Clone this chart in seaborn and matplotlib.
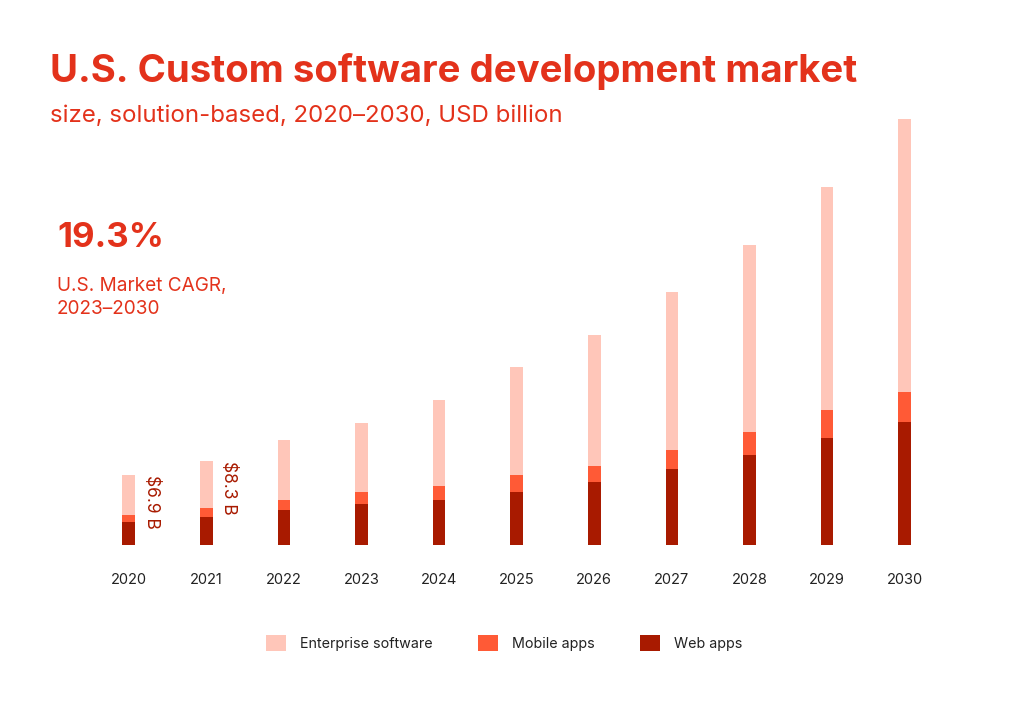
import matplotlib
matplotlib.use("Agg")
import matplotlib.pyplot as plt
from matplotlib.patches import Patch
import seaborn as sns
import pandas as pd
import numpy as np

years = ["2020", "2021", "2022", "2023", "2024", "2025", "2026", "2027", "2028", "2029", "2030"]
web_apps = [2.30, 2.79, 3.48, 4.01, 4.43, 5.19, 6.18, 7.46, 8.87, 10.57, 12.09]
mobile_apps = [0.69, 0.83, 0.95, 1.21, 1.41, 1.70, 1.61, 1.90, 2.27, 2.70, 3.01]
enterprise_software = [3.91, 4.68, 5.91, 6.77, 8.44, 10.64, 12.87, 15.54, 18.45, 21.97, 26.90]
series_names = ["Enterprise software", "Mobile apps", "Web apps"]
label_years = ["2020", "2021"]
label_texts = ["$6.9 B", "$8.3 B"]

C_ENT = "#FFC6B9"
C_MOB = "#FF5A36"
C_WEB = "#A81A00"
C_RED = "#E3321B"
C_DARK = "#222222"

df = pd.DataFrame({"year": years, "web": web_apps, "mobile": mobile_apps,
                   "enterprise": enterprise_software})
df["web_mobile"] = df["web"] + df["mobile"]
df["total"] = df["web_mobile"] + df["enterprise"]

sns.set_theme(style="white")
plt.rcParams["font.family"] = ["Inter", "DejaVu Sans"]

W, H = 1024, 713
fig = plt.figure(figsize=(W / 100, H / 100), dpi=100)
fig.patch.set_facecolor("white")

base_px = 545
px_per_unit = 10.15
ymax = 45
ax_h = ymax * px_per_unit
left_px = 128.7 - 38.8
ax_w = 11 * 77.6
ax = fig.add_axes([left_px / W, (H - base_px) / H, ax_w / W, ax_h / H])

bw = 12.6 / 77.6
sns.barplot(data=df, x="year", y="total", order=years, color=C_ENT, width=bw,
            linewidth=0, saturation=1, ax=ax)
sns.barplot(data=df, x="year", y="web_mobile", order=years, color=C_MOB, width=bw,
            linewidth=0, saturation=1, ax=ax)
sns.barplot(data=df, x="year", y="web", order=years, color=C_WEB, width=bw,
            linewidth=0, saturation=1, ax=ax)

ax.set_xlim(-0.5, len(years) - 0.5)
ax.set_ylim(0, ymax)
ax.set_xlabel("")
ax.set_ylabel("")
ax.set_yticks([])
for s in ax.spines.values():
    s.set_visible(False)
ax.tick_params(axis="x", length=0, pad=20, labelsize=10.5, labelcolor=C_DARK)
ax.set_facecolor("none")

for yr, txt in zip(label_years, label_texts):
    i = years.index(yr)
    tot = df.loc[i, "total"]
    ax.text(i + 0.29, tot, txt, rotation=-90, ha="center", va="top",
            fontsize=12.5, color=C_WEB)

fig.text(50 / W, 1 - 82 / H, "U.S. Custom software development market",
         fontsize=27.6, fontweight="bold", color=C_RED, ha="left", va="baseline")
fig.text(50 / W, 1 - 121.5 / H, "size, solution-based, 2020\u20132030, USD billion",
         fontsize=17.3, color=C_RED, ha="left", va="baseline")
fig.text(57 / W, 1 - 247 / H, "19.3%", fontsize=25, fontweight="bold",
         color=C_RED, ha="left", va="baseline")
fig.text(57 / W, 1 - 291 / H, "U.S. Market CAGR,", fontsize=13.7,
         color=C_RED, ha="left", va="baseline")
fig.text(57 / W, 1 - 314 / H, "2023\u20132030", fontsize=13.7,
         color=C_RED, ha="left", va="baseline")

handles = [Patch(facecolor=c, edgecolor="none", label=n)
           for c, n in zip([C_ENT, C_MOB, C_WEB], series_names)]
fig.legend(handles=handles, loc="center", bbox_to_anchor=(504 / W, 1 - 643 / H),
           ncol=3, frameon=False, fontsize=10.3, handlelength=1.4, handleheight=1.4,
           handletextpad=0.95, columnspacing=3.2, labelcolor=C_DARK)

fig.savefig("out.png", dpi=100, facecolor="white")
